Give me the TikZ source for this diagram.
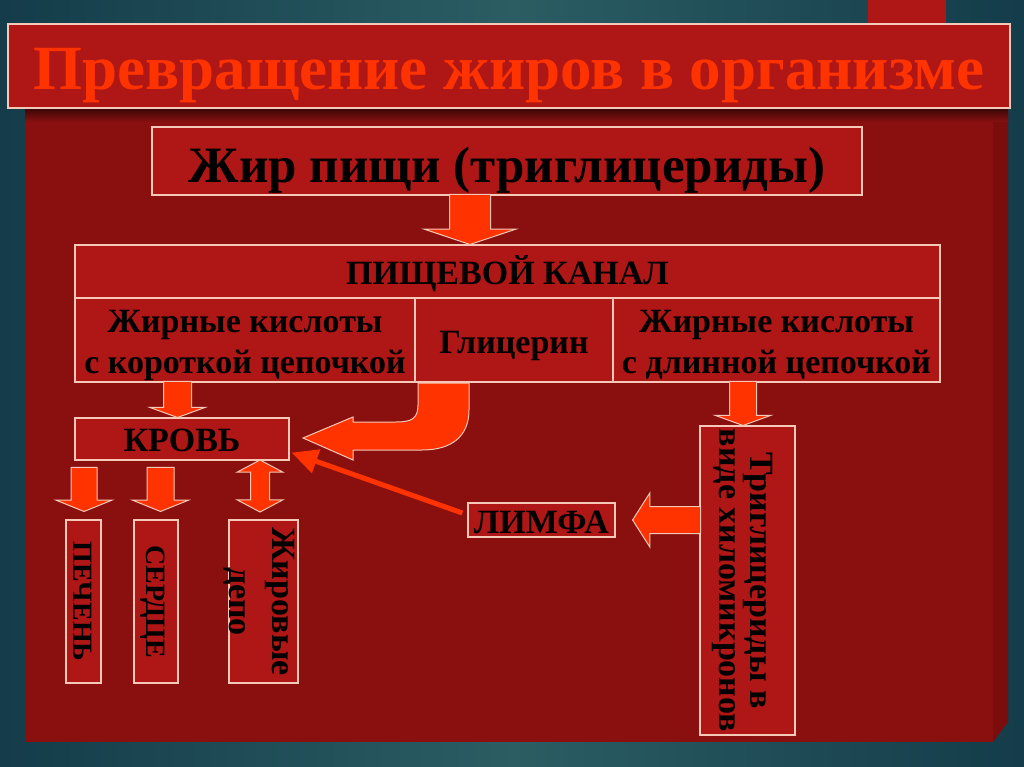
\documentclass[tikz,border=0pt]{standalone}
\usepackage{fontspec}
\setmainfont{Liberation Serif}
\usetikzlibrary{shapes.arrows,arrows.meta,calc}
\definecolor{fonA}{HTML}{143C4A}
\definecolor{fonB}{HTML}{2B5D63}
\definecolor{panel}{HTML}{8A1010}
\definecolor{bok}{HTML}{7C0D0D}
\definecolor{krasn}{HTML}{AF1616}
\definecolor{kant}{HTML}{F5C8B8}
\definecolor{oranzh}{HTML}{FF3300}
\begin{document}
\begin{tikzpicture}[x=1pt,y=-1pt]
\tikzstyle{blok} = [draw=kant, fill=krasn, line width=1.3pt, inner sep=0pt, align=center, text height=25pt, text depth=0pt, font=\bfseries\fontsize{34}{41}\selectfont] % прямоугольный блок
\tikzstyle{dvestroki} = [text height=66pt, text depth=0pt] % две строки текста
\tikzstyle{vblok} = [blok, rotate=-90] % блок с вертикальным текстом
\tikzstyle{strelka} = [single arrow, draw=kant, fill=oranzh, line width=1pt, minimum width=0pt, anchor=tip] % широкая стрелка
\tikzstyle{vniz} = [strelka, shape border rotate=270, inner ysep=0pt] % стрелка вниз
\tikzstyle{tonkaya} = [draw=oranzh, line width=5pt, -{Triangle[length=26pt,width=24pt]}] % тонкая стрелка

% фон слайда
\useasboundingbox (0,0) rectangle (1024,767);
\shade[left color=fonA, right color=fonA, middle color=fonB] (0,0) rectangle (1024,767);
\fill[krasn] (868,0) rectangle (946,40); % полоса справа сверху
\fill[panel] (25,100) rectangle (993,742); % основная панель
\fill[bok] (993,100) -- (1008,100) -- (1008,722) -- (993,742) -- cycle; % боковая грань
\shade[top color=black!60!panel, bottom color=panel] (25,108) rectangle (1008,122); % тень под заголовком

\node[blok, minimum width=1002pt, minimum height=84pt, text=oranzh, text height=48pt, font=\bfseries\fontsize{63}{70}\selectfont] (titul) at (509,66) {Превращение жиров в организме};

\node[blok, minimum width=710pt, minimum height=68pt, text height=44pt, font=\bfseries\fontsize{51}{56}\selectfont] (zhir) at (507,161) {Жир пищи (триглицериды)};
\node[blok, minimum width=865pt, minimum height=53pt] (kanal) at (507.5,271.5) {ПИЩЕВОЙ КАНАЛ};
\node[blok, dvestroki, minimum width=340pt, minimum height=84pt] (korotk) at (245,340) {Жирные кислоты\\ с короткой цепочкой};
\node[blok, minimum width=198pt, minimum height=84pt, text height=26pt] (glic) at (514,340) {Глицерин};
\node[blok, dvestroki, minimum width=327pt, minimum height=84pt] (dlinn) at (776.5,340) {Жирные кислоты\\ с длинной цепочкой};

\node[blok, minimum width=214pt, minimum height=42pt, text height=24pt] (krov) at (182,439) {КРОВЬ};
\node[vblok, minimum width=163pt, minimum height=35pt, text height=21pt, font=\bfseries\fontsize{28}{32}\selectfont] (pechen) at (83.5,601.5) {ПЕЧЕНЬ};
\node[vblok, minimum width=163pt, minimum height=44pt, text height=20pt, font=\bfseries\fontsize{28}{32}\selectfont] (serdce) at (156,601.5) {СЕРДЦЕ};
\node[vblok, minimum width=163pt, minimum height=69pt, text height=69pt, text depth=0pt, font=\bfseries\fontsize{34}{43}\selectfont] (depo) at (263.5,601.5) {Жировые\\ депо};

\node[blok, minimum width=147pt, minimum height=34pt, text height=26pt] (limfa) at (541.5,520) {ЛИМФА};
\node[vblok, minimum width=309pt, minimum height=95pt, text height=57pt, text depth=0pt, font=\bfseries\fontsize{34}{31}\selectfont] (trig) at (747.5,580.5) {Триглицериды в\\ виде хиломикронов};

% широкие стрелки
\node[vniz, inner xsep=20pt, single arrow head extend=25pt, single arrow tip angle=143, minimum height=50pt] (s1) at (470,245) {};
\node[vniz, inner xsep=13.5pt, single arrow head extend=14pt, single arrow tip angle=140, minimum height=36pt] (s2) at (177.5,418) {};
\node[vniz, inner xsep=13pt, single arrow head extend=14.5pt, single arrow tip angle=140, minimum height=44pt] (s3) at (743,426) {};
\node[strelka, shape border rotate=180, inner xsep=0pt, inner ysep=13pt, single arrow head extend=13.5pt, single arrow tip angle=115, minimum height=68pt] (s4) at (632,520) {};
\node[vniz, inner xsep=12.5pt, single arrow head extend=15pt, single arrow tip angle=136, minimum height=44pt] (s5) at (84,512) {};
\node[vniz, inner xsep=13pt, single arrow head extend=14.5pt, single arrow tip angle=136, minimum height=44pt] (s6) at (160.5,512) {};
\node[double arrow, draw=kant, fill=oranzh, line width=1pt, inner xsep=9pt, inner ysep=0pt, minimum width=0pt, shape border rotate=90, double arrow head extend=13.5pt, double arrow tip angle=124, minimum height=52pt] (s7) at (260,486) {};

% изогнутая стрелка от глицерина
\draw[draw=kant, fill=oranzh, line width=1pt] (418,383) -- (418,405) .. controls (418,419) and (411,422) .. (396,422) -- (353,422) -- (353,417) -- (303,438) -- (353,460) -- (353,450) -- (422,450) .. controls (452,450) and (469,436) .. (469,410) -- (469,383) -- cycle;

% лимфа -> кровь
\draw[tonkaya] ($(limfa.west)+(-5,-7)$) -- ($(krov.south east)+(2,-8)$);
\end{tikzpicture}
\end{document}
